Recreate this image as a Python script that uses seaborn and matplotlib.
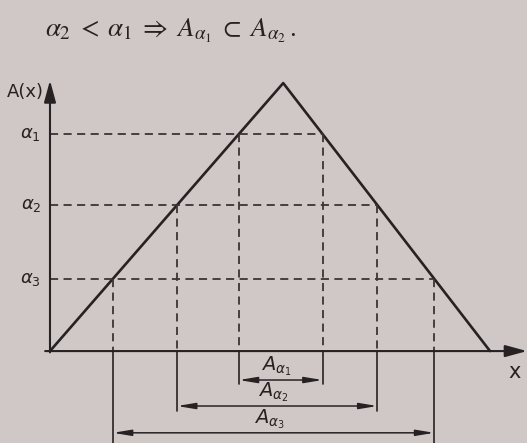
import numpy as np
import pandas as pd
import matplotlib
matplotlib.use("Agg")
import matplotlib.pyplot as plt
import seaborn as sns

# Triangular membership function mu_A(x): support [a, c], peak at b
x_points = [0.0, 5.3, 10.0]
mu_points = [0.0, 1.0, 0.0]

# alpha levels and their labels
alpha_levels = [0.81, 0.545, 0.27]
alpha_labels = [r"$\alpha_1$", r"$\alpha_2$", r"$\alpha_3$"]
cut_labels = [r"$A_{\alpha_1}$", r"$A_{\alpha_2}$", r"$A_{\alpha_3}$"]

title_text = (r"$\alpha_2 \;<\; \alpha_1 \;\Rightarrow\; A_{\alpha_1}"
              r" \;\subset\; A_{\alpha_2}\,.$")
y_label = "A(x)"
x_label = "x"

paper = "#d0c8c6"
ink = "#262224"
dash_ink = "#3a3436"

sns.set_theme(style="white")
plt.rcParams["font.family"] = ["DejaVu Sans"]
plt.rcParams["mathtext.fontset"] = "dejavusans"

fig = plt.figure(figsize=(5.27, 4.43), dpi=100, facecolor=paper)
ax = fig.add_axes([0, 0, 1, 1])
ax.set_facecolor(paper)
ax.set_xlim(-1.136, 10.84)
ax.set_ylim(-0.343, 1.31)
ax.axis("off")

# membership function
df = pd.DataFrame({"x": x_points, "mu": mu_points})
sns.lineplot(data=df, x="x", y="mu", ax=ax, color=ink, lw=1.9,
             sort=False, estimator=None)

a, b, c = x_points

# coordinate axes with arrow heads
ax.annotate("", xy=(10.84, 0), xytext=(-0.11, 0),
            arrowprops=dict(arrowstyle="-|>,head_length=1.1,head_width=0.3",
                            lw=1.5, color=ink, shrinkA=0, shrinkB=0))
ax.annotate("", xy=(0, 1.01), xytext=(0, -0.005),
            arrowprops=dict(arrowstyle="-|>,head_length=1.1,head_width=0.3",
                            lw=1.5, color=ink, shrinkA=0, shrinkB=0))

# rows below the x axis for the alpha-cut intervals
row_y = [-0.108, -0.205, -0.305]
row_bottom = [-0.122, -0.222, -0.343]

for lvl, lab, cut, ry, rb in zip(alpha_levels, alpha_labels, cut_labels,
                                 row_y, row_bottom):
    left = a + lvl * (b - a)
    right = c - lvl * (c - b)
    # horizontal dashed level line
    ax.plot([0, right], [lvl, lvl], color=dash_ink, lw=1.3,
            ls=(0, (4.5, 3)))
    # vertical dashed drops to the x axis
    for xv in (left, right):
        ax.plot([xv, xv], [lvl, 0], color=dash_ink, lw=1.3,
                ls=(0, (4.5, 3)))
        ax.plot([xv, xv], [0, rb], color=ink, lw=1.2)
    # level label on the y axis
    ax.text(-0.2, lvl, lab, ha="right", va="center", fontsize=13,
            color=ink)
    # interval arrow with its label
    ax.annotate("", xy=(right, ry), xytext=(left, ry),
                arrowprops=dict(arrowstyle="<|-|>,head_length=0.9,head_width=0.15",
                                lw=1.1, color=ink, shrinkA=0, shrinkB=0))
    ax.text((left + right) / 2 - 0.1, ry + 0.008, cut, ha="center",
            va="bottom", fontsize=14, color=ink)

ax.text(-0.15, 0.965, y_label, ha="right", va="center", fontsize=13,
        color=ink)
ax.text(10.55, -0.078, x_label, ha="center", va="center", fontsize=15,
        color=ink)
ax.text(-0.114, 1.195, title_text, ha="left", va="center", fontsize=19.5,
        color=ink, math_fontfamily="stix")

fig.savefig("out.png", dpi=100, facecolor=paper)
